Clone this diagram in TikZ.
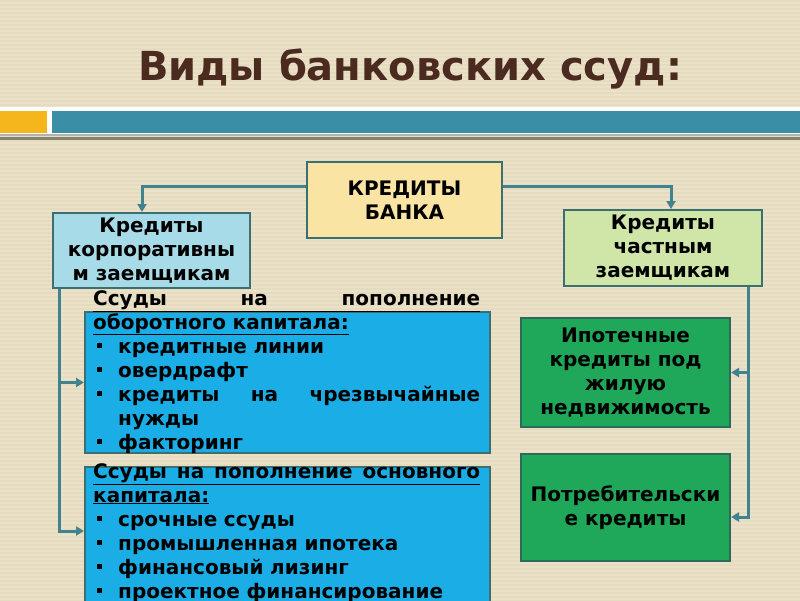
\documentclass[tikz,border=0pt]{standalone}
\usepackage{fontspec}
\setmainfont{DejaVu Sans}
\usetikzlibrary{arrows.meta,positioning}
\definecolor{bgSand}{HTML}{EAE1C7}
\definecolor{bgStripe}{HTML}{E5DBC0}
\definecolor{titleBrown}{HTML}{4B2A1F}
\definecolor{barTeal}{HTML}{3A8FA6}
\definecolor{barOrange}{HTML}{F5B51C}
\definecolor{barGrey}{HTML}{85826F}
\definecolor{edgeTeal}{HTML}{3C6F70}
\definecolor{edgeGreen}{HTML}{2E6A5C}
\definecolor{linkTeal}{HTML}{3F8391}
\definecolor{bankFill}{HTML}{FAE4A3}
\definecolor{corpFill}{HTML}{A7DBE7}
\definecolor{privFill}{HTML}{D0E6A9}
\definecolor{loanFill}{HTML}{1AADE6}
\definecolor{homeFill}{HTML}{1FA75A}
\newcommand\loanitem{\makebox[25pt][l]{\hspace{4pt}\rule[5pt]{5pt}{5pt}}}
\tikzset{
  headbox/.style={draw=edgeTeal, line width=2pt, align=center, inner sep=0pt,
    font=\fontsize{20}{24}\selectfont\bfseries},
  loanbox/.style={draw=edgeTeal, line width=2pt, fill=loanFill,
    minimum width=405pt, inner sep=0pt},
  loantext/.style={anchor=base west, inner sep=0pt, text width=387pt, align=left,
    font=\fontsize{20}{24}\selectfont\bfseries},
  homebox/.style={draw=edgeGreen, line width=2pt, fill=homeFill, align=center,
    minimum width=209pt, inner sep=0pt, font=\fontsize{20}{24}\selectfont\bfseries},
  link/.style={draw=linkTeal, line width=3pt, -{Triangle[length=8pt,width=9pt]}},
}

\begin{document}
\begin{tikzpicture}[x=1pt, y=-1pt]
  \clip (0,0) rectangle (800,600);
  % backdrop
  \fill[bgSand] (0,0) rectangle (800,600);
  \foreach \y in {0,4,...,600}
    \fill[bgStripe] (0,\y) rectangle (800,\y+1.5);
  \fill[white] (0,107) rectangle (800,134);
  \fill[barOrange] (0,111) rectangle (47,133);
  \fill[barTeal] (52,111) rectangle (800,133);
  \fill[black!30] (0,134) rectangle (800,136);
  \fill[barGrey] (0,137) rectangle (800,140);

  \node[font=\fontsize{40}{48}\selectfont\bfseries, text=titleBrown, anchor=base]
    (title) at (410,80) {Виды банковских ссуд:};

  % top level
  \node[headbox, fill=bankFill, minimum width=195pt, minimum height=76pt]
    (bank) at (404.5,200) {КРЕДИТЫ\\БАНКА};
  \node[headbox, fill=corpFill, minimum width=197pt, minimum height=75pt]
    (corp) at (151.5,250.5) {Кредиты\\корпоративны\\м заемщикам};
  \node[headbox, fill=privFill, minimum width=198pt, minimum height=76pt]
    (priv) at (663,248) {Кредиты\\частным\\заемщикам};

  % corporate loans
  \node[loanbox, minimum height=141pt] (work) at (287.5,382.5) {};
  \node[loanbox, minimum height=160pt, below=12pt of work] (fixed) {};
  \node[loantext] (workText) at (93,305)
    {\underline{\makebox[387pt]{Ссуды\hfill на\hfill пополнение}}\\
     \underline{оборотного капитала:}\\
     \loanitem кредитные линии\\
     \loanitem овердрафт\\
     \loanitem\makebox[362pt]{кредиты\hfill на\hfill чрезвычайные}\\
     \hspace*{25pt}нужды\\
     \loanitem факторинг};
  \node[loantext] (fixedText) at (93,478)
    {\underline{\makebox[387pt]{Ссуды\hfill на\hfill пополнение\hfill основного}}\\
     \underline{капитала:}\\
     \loanitem срочные ссуды\\
     \loanitem промышленная ипотека\\
     \loanitem финансовый лизинг\\
     \loanitem проектное финансирование};

  % private loans
  \node[homebox, minimum height=109pt] (mort) at (625.5,372.5)
    {Ипотечные\\кредиты под\\жилую\\недвижимость};
  \node[homebox, minimum height=107pt, below=25pt of mort] (cons)
    {Потребительски\\е кредиты};

  % connectors
  \draw[link] ([yshift=14pt]bank.west) -| ([xshift=-9.5pt]corp.north);
  \draw[link] ([yshift=14pt]bank.east) -| ([xshift=8pt]priv.north);
  \coordinate (corpDrop) at ([xshift=7pt]corp.south west);
  \coordinate (privDrop) at ([xshift=-15pt]priv.south east);
  \draw[link] (corpDrop) |- ([yshift=-65pt]fixed.north west);
  \draw[link] (corpDrop |- work.west) -- (work.west);
  \draw[link] (privDrop) |- ([yshift=-9.5pt]cons.east);
  \draw[link] (privDrop |- mort.east) -- (mort.east);
\end{tikzpicture}
\end{document}
